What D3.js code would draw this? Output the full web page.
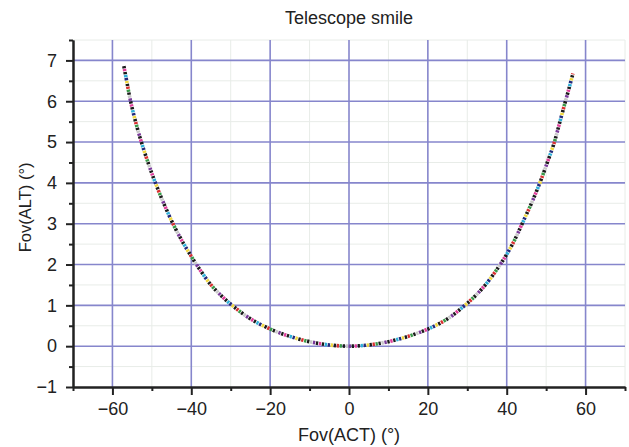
<!DOCTYPE html>
<html>
<head>
<meta charset="utf-8">
<script src="https://cdn.jsdelivr.net/npm/d3@7"></script>
<style>
  body { margin: 0; background: #fff; }
  svg { display: block; font-family: "Liberation Sans", Arial, sans-serif; }
</style>
</head>
<body>
<div id="chart"></div>
<script>
// Telescope smile: field of view ALT vs ACT
const actX = [-57.1, -56.3, -55.4, -54.0, -52.5, -50.8, -49.3, -47.0, -44.4, -42.0,
  -40.0, -38.0, -35.0, -32.0, -29.0, -25.0, -20.0, -15.0, -10.0, -5.0, 0,
  5.0, 10.0, 15.0, 20.0, 25.0, 29.0, 32.0, 35.0, 38.0, 40.0, 42.0, 44.0, 46.5,
  48.6, 50.3, 52.0, 53.5, 54.9, 55.9, 56.8];
const altY = [6.86, 6.45, 6.0, 5.45, 4.95, 4.45, 4.05, 3.5, 2.95, 2.52,
  2.2, 1.9, 1.5, 1.2, 0.95, 0.67, 0.42, 0.24, 0.11, 0.03, 0,
  0.03, 0.11, 0.24, 0.42, 0.67, 0.97, 1.23, 1.55, 1.95, 2.25, 2.6, 3.02, 3.55,
  4.05, 4.5, 4.97, 5.5, 6.0, 6.35, 6.68];

const xMajor = [-60, -40, -20, 0, 20, 40, 60];
const xMinor = [-70, -50, -30, -10, 10, 30, 50, 70];
const yMajor = [-1, 0, 1, 2, 3, 4, 5, 6, 7];
const yMinor = [-0.5, 0.5, 1.5, 2.5, 3.5, 4.5, 5.5, 6.5, 7.5];

// the many overlapping series show up as a band of coloured dots
const dotColors = ['#1a1a1a', '#e0409c', '#1a1a1a', '#2fb0d8', '#222a7a', '#f0d840',
  '#1a1a1a', '#d83030', '#3a9a4a', '#1a1a1a', '#c8c8c8', '#7a3a9a'];

const width = 629, height = 447;
const margin = {top: 40, right: 4, bottom: 60, left: 73};

const x = d3.scaleLinear().domain([-70, 70]).range([margin.left, width - margin.right]);
const y = d3.scaleLinear().domain([-1, 7.5]).range([height - margin.bottom, margin.top]);

const svg = d3.select('#chart').append('svg')
  .attr('width', width)
  .attr('height', height);

// minor grid
const grid = svg.append('g');
grid.selectAll('.vmin').data(xMinor).enter().append('line')
  .attr('x1', d => x(d)).attr('x2', d => x(d))
  .attr('y1', y.range()[1]).attr('y2', y.range()[0])
  .attr('stroke', '#e8ece8').attr('stroke-width', 1);
grid.selectAll('.hmin').data(yMinor).enter().append('line')
  .attr('x1', x.range()[0]).attr('x2', x.range()[1])
  .attr('y1', d => y(d)).attr('y2', d => y(d))
  .attr('stroke', '#e8ece8').attr('stroke-width', 1);

// major grid
grid.selectAll('.vmaj').data(xMajor).enter().append('line')
  .attr('x1', d => x(d)).attr('x2', d => x(d))
  .attr('y1', y.range()[1]).attr('y2', y.range()[0])
  .attr('stroke', '#8686cc').attr('stroke-width', 1.6);
grid.selectAll('.hmaj').data(yMajor.filter(d => d > -1)).enter().append('line')
  .attr('x1', x.range()[0]).attr('x2', x.range()[1])
  .attr('y1', d => y(d)).attr('y2', d => y(d))
  .attr('stroke', '#8686cc').attr('stroke-width', 1.6);

// curve
const pts = actX.map((d, i) => [d, altY[i]]);
const line = d3.line()
  .x(d => x(d[0]))
  .y(d => y(d[1]))
  .curve(d3.curveCatmullRom);

const slot = 3;
const dash = 2.3;
const period = slot * dotColors.length;
svg.append('g').selectAll('path').data(dotColors).enter().append('path')
  .attr('d', line(pts))
  .attr('fill', 'none')
  .attr('stroke', d => d)
  .attr('stroke-width', 3.6)
  .attr('stroke-dasharray', `${dash} ${period - dash}`)
  .attr('stroke-dashoffset', (d, i) => -i * slot);

// axes
const axisColor = '#222';
function styleAxis(g) {
  g.select('.domain').attr('stroke', axisColor).attr('stroke-width', 2);
  g.selectAll('.tick line').attr('stroke', axisColor).attr('stroke-width', 2);
  g.selectAll('.tick text').attr('fill', '#222').style('font-size', '18px');
}

svg.append('g')
  .attr('transform', `translate(0,${y(-1)})`)
  .call(d3.axisBottom(x).tickValues(xMinor).tickSize(4).tickFormat('').tickSizeOuter(0))
  .call(styleAxis);
svg.append('g')
  .attr('transform', `translate(0,${y(-1)})`)
  .call(d3.axisBottom(x).tickValues(xMajor).tickSize(8).tickPadding(7).tickSizeOuter(0))
  .call(styleAxis);

svg.append('g')
  .attr('transform', `translate(${x(-70)},0)`)
  .call(d3.axisLeft(y).tickValues(yMinor).tickSize(4).tickFormat('').tickSizeOuter(0))
  .call(styleAxis);
svg.append('g')
  .attr('transform', `translate(${x(-70)},0)`)
  .call(d3.axisLeft(y).tickValues(yMajor).tickSize(7).tickPadding(9).tickSizeOuter(0))
  .call(styleAxis);

// titles
svg.append('text')
  .attr('x', x(0)).attr('y', 24)
  .attr('text-anchor', 'middle')
  .style('font-size', '18px').attr('fill', '#222')
  .text('Telescope smile');

svg.append('text')
  .attr('x', x(0)).attr('y', 441)
  .attr('text-anchor', 'middle')
  .style('font-size', '18px').attr('fill', '#222')
  .text('Fov(ACT) (°)');

svg.append('text')
  .attr('transform', `translate(31,${y(3.4)})rotate(-90)`)
  .attr('text-anchor', 'middle')
  .style('font-size', '16.5px').attr('fill', '#222')
  .text('Fov(ALT) (°)');
</script>
</body>
</html>
